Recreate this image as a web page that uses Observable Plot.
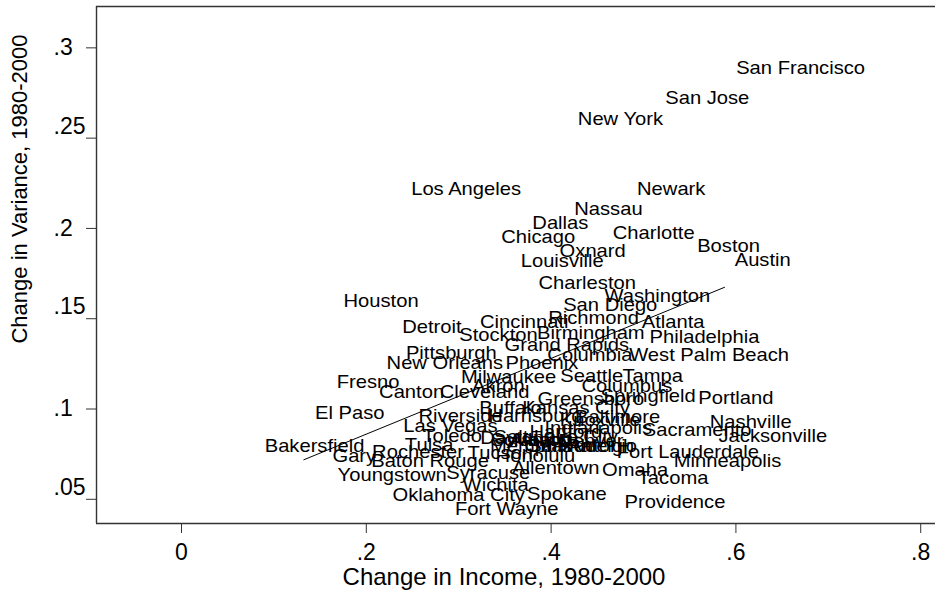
<!DOCTYPE html>
<html>
<head>
<meta charset="utf-8">
<script src="https://cdn.jsdelivr.net/npm/d3@7"></script>
<script src="https://cdn.jsdelivr.net/npm/@observablehq/plot@0.6"></script>
<style>
  body { margin: 0; background: #fff; }
</style>
</head>
<body>
<div id="chart"></div>
<script>
// Metro areas: change in income and change in income variance, 1980-2000
const cities = [
  "San Francisco", "San Jose", "New York", "Los Angeles", "Newark", "Nassau",
  "Dallas", "Chicago", "Charlotte", "Oxnard", "Boston", "Louisville", "Austin",
  "Charleston", "Washington", "Houston", "San Diego", "Richmond", "Atlanta",
  "Cincinnati", "Detroit", "Stockton", "Birmingham", "Philadelphia", "Grand Rapids",
  "Columbia", "West Palm Beach", "Pittsburgh", "New Orleans", "Phoenix", "Fresno",
  "Milwaukee", "Seattle", "Tampa", "Canton", "Cleveland", "Akron", "Columbus",
  "Springfield", "Portland", "Greensboro", "El Paso", "Buffalo", "Kansas City",
  "Riverside", "Harrisburg", "Baltimore", "Las Vegas", "Indianapolis", "Sacramento",
  "Nashville", "Jacksonville", "Toledo", "Dayton", "Tulsa", "Tucson", "Rochester",
  "Bakersfield", "Gary", "Baton Rouge", "Honolulu", "Fort Lauderdale", "Minneapolis",
  "Allentown", "Omaha", "Tacoma", "Youngstown", "Syracuse", "Wichita",
  "Oklahoma City", "Spokane", "Providence", "Fort Wayne",
  "Albany", "Hartford", "Denver", "Salt Lake City", "Memphis", "Orlando",
  "San Antonio", "Knoxville", "Raleigh", "Scranton"
];

const incomeChange = [
  0.670, 0.569, 0.475, 0.308, 0.530, 0.462,
  0.410, 0.386, 0.511, 0.445, 0.592, 0.412, 0.629,
  0.439, 0.515, 0.216, 0.464, 0.446, 0.532,
  0.371, 0.271, 0.343, 0.443, 0.566, 0.417,
  0.442, 0.571, 0.292, 0.285, 0.390, 0.202,
  0.354, 0.444, 0.510, 0.249, 0.328, 0.343, 0.482,
  0.505, 0.600, 0.443, 0.182, 0.356, 0.427,
  0.302, 0.383, 0.472, 0.291, 0.451, 0.558,
  0.616, 0.640, 0.293, 0.358, 0.268, 0.345, 0.256,
  0.144, 0.187, 0.269, 0.383, 0.548, 0.591,
  0.405, 0.491, 0.532, 0.228, 0.332, 0.340,
  0.300, 0.417, 0.534, 0.352,
  0.389, 0.416, 0.443, 0.405, 0.378, 0.410,
  0.434, 0.453, 0.453, 0.378
];

const varianceChange = [
  0.2885, 0.2719, 0.2603, 0.2215, 0.2215, 0.2105,
  0.2027, 0.1950, 0.1972, 0.1872, 0.1900, 0.1817, 0.1822,
  0.1695, 0.1623, 0.1595, 0.1573, 0.1501, 0.1479,
  0.1479, 0.1451, 0.1407, 0.1418, 0.1396, 0.1352,
  0.1296, 0.1296, 0.1307, 0.1252, 0.1252, 0.1147,
  0.1175, 0.1180, 0.1180, 0.1091, 0.1091, 0.1124, 0.1124,
  0.1069, 0.1058, 0.1052, 0.0975, 0.1003, 0.1003,
  0.0959, 0.0959, 0.0953, 0.0903, 0.0892, 0.0881,
  0.0925, 0.0848, 0.0848, 0.0837, 0.0798, 0.0754, 0.0759,
  0.0792, 0.0737, 0.0709, 0.0737, 0.0759, 0.0709,
  0.0670, 0.0659, 0.0614, 0.0631, 0.0642, 0.0576,
  0.0521, 0.0526, 0.0482, 0.0443,
  0.0826, 0.0870, 0.0820, 0.0842, 0.0792, 0.0792,
  0.0792, 0.0937, 0.0792, 0.0826
];

// Linear fit endpoints
const fitIncome = [0.1324, 0.5877];
const fitVariance = [0.0719, 0.1674];

// Axis ticks
const xTicks = [0, 0.2, 0.4, 0.6, 0.8];
const yTicks = [0.3, 0.25, 0.2, 0.15, 0.1, 0.05];
const yTicksOneDigit = [0.3, 0.2, 0.1];
const yTicksTwoDigit = [0.25, 0.15, 0.05];

const xTitle = "Change in Income, 1980-2000";
const yTitle = "Change in Variance, 1980-2000";

const points = cities.map((name, i) => ({name, income: incomeChange[i], variance: varianceChange[i]}));
const fit = fitIncome.map((x, i) => ({income: x, variance: fitVariance[i]}));

const fmt = d => d === 0 ? "0" : String(d).replace(/^0/, "");
const font = '"Liberation Sans", Arial, Helvetica, sans-serif';
const xDomain = [-0.092, 0.816];
const yDomain = [0.0366, 0.3229];
const axisColor = "#333";

const chart = Plot.plot({
  width: 935,
  height: 590,
  marginLeft: 96,
  marginRight: 0,
  marginTop: 6,
  marginBottom: 67,
  style: {fontFamily: font, background: "#fff", color: "#000", overflow: "visible"},
  x: {domain: xDomain},
  y: {domain: yDomain},
  marks: [
    Plot.ruleX([xDomain[0]], {stroke: axisColor, strokeWidth: 1.4}),
    Plot.ruleY(yDomain, {stroke: axisColor, strokeWidth: 1.4}),
    Plot.axisX(xTicks, {tickSize: 10, tickPadding: 10, fontSize: 23, tickFormat: fmt, label: null, stroke: axisColor}),
    // y tick marks
    Plot.axisY(yTicks, {tickSize: 10, tickFormat: () => "", label: null, stroke: axisColor}),
    // y tick labels, left-aligned
    Plot.axisY(yTicksOneDigit, {tickSize: 0, tickPadding: 43, textAnchor: "start", fontSize: 23, tickFormat: fmt, label: null}),
    Plot.axisY(yTicksTwoDigit, {tickSize: 0, tickPadding: 43, textAnchor: "start", dy: -12, fontSize: 23, tickFormat: fmt, label: null}),
    Plot.line(fit, {x: "income", y: "variance", stroke: "#000", strokeWidth: 1}),
    Plot.text(points, {x: "income", y: "variance", text: "name", fontSize: 17.7, fill: "#000"}),
    Plot.text([xTitle], {text: d => d, frameAnchor: "bottom", lineAnchor: "middle", dx: -12, dy: 54, fontSize: 24, fill: "#000"}),
    Plot.text([yTitle], {text: d => d, frameAnchor: "left", textAnchor: "middle", lineAnchor: "middle", dx: -77, dy: -76, rotate: -90, fontSize: 22, fill: "#000"})
  ]
});

// City labels are set slightly wide (first text mark in the plot)
const stretch = 1.14;
const cityGroup = chart.querySelector('g[aria-label="text"]');
if (cityGroup) {
  cityGroup.querySelectorAll("text").forEach(t => {
    const tr = t.getAttribute("transform");
    if (tr) {
      t.setAttribute("transform", tr + ` scale(${stretch},1)`);
    } else {
      const x = +t.getAttribute("x") || 0;
      t.setAttribute("transform", `translate(${x},0) scale(${stretch},1) translate(${-x},0)`);
    }
  });
}

document.getElementById("chart").appendChild(chart);
</script>
</body>
</html>
